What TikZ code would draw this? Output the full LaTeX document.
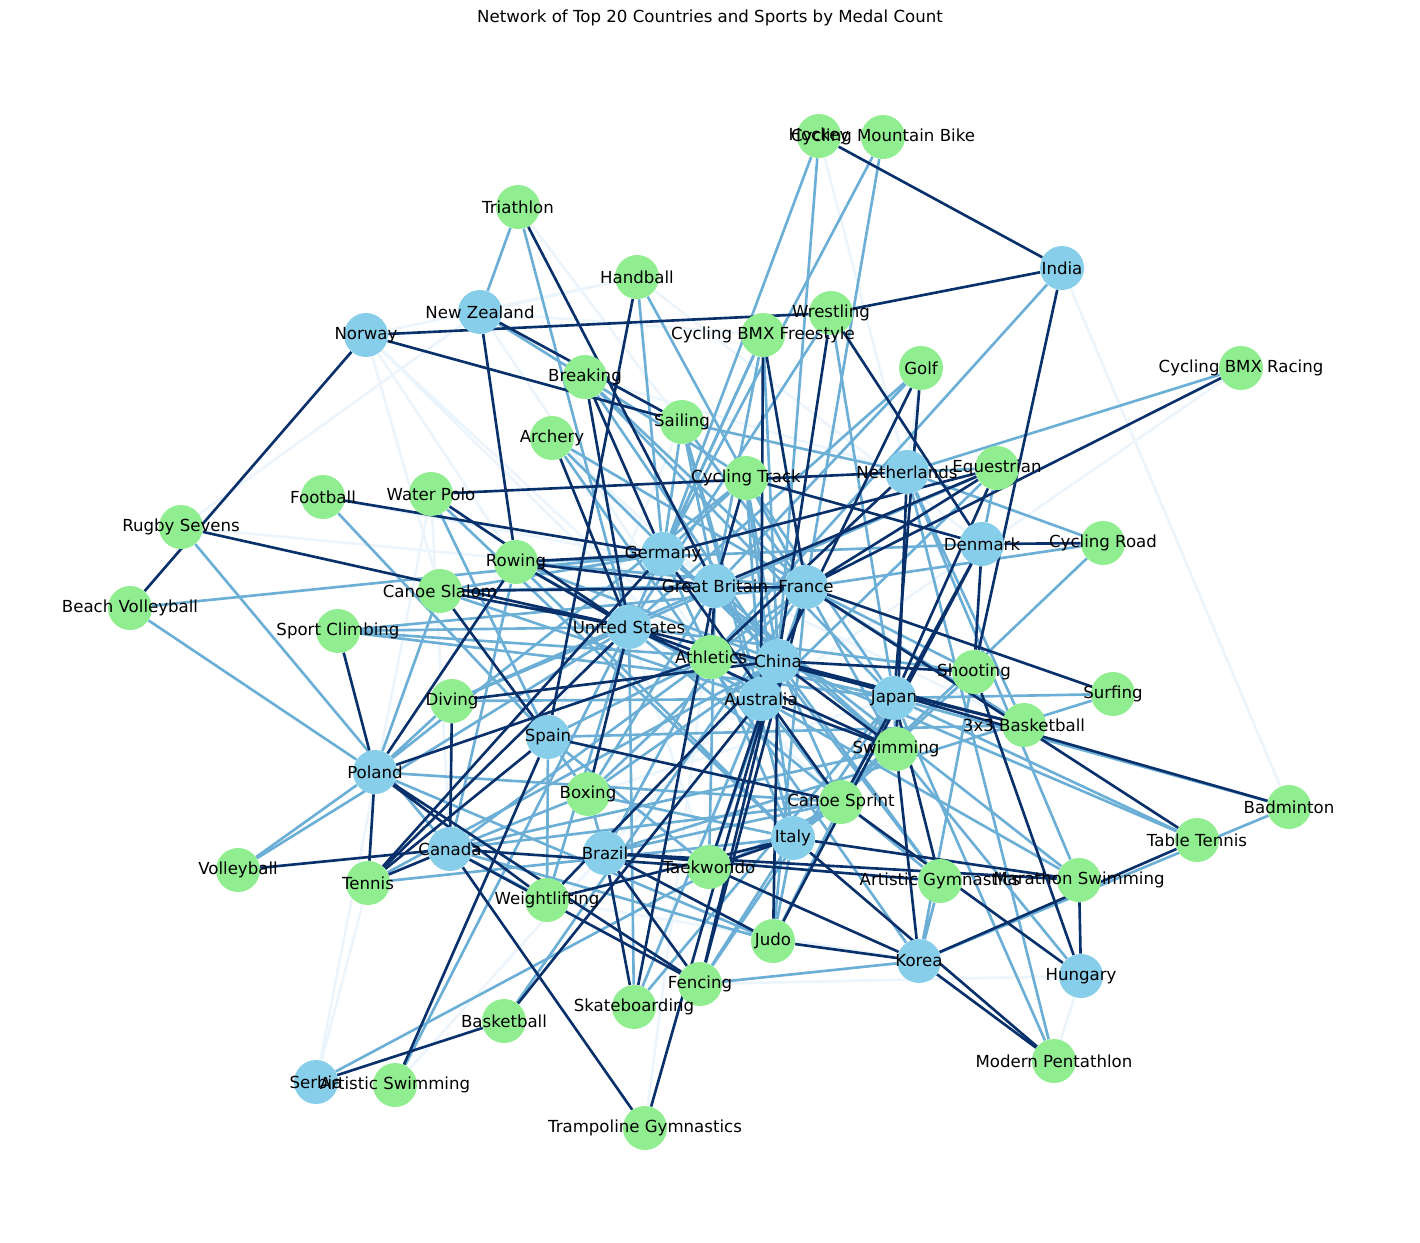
\documentclass[tikz,border=0pt]{standalone}
\usepackage{fontspec}
\setmainfont{DejaVu Sans}
\usepackage{tikz}
\tikzset{
  >=latex,
}
\definecolor{skyblue}{RGB}{135,206,235}
\definecolor{lightgreen}{RGB}{144,238,144}
\definecolor{bluedark}{RGB}{8,48,107}
\definecolor{bluemid}{RGB}{107,174,214}
\definecolor{bluefaint}{RGB}{236,244,252}
\tikzstyle{country}=[circle,fill=skyblue,minimum size=0.88cm,inner sep=0pt]
\tikzstyle{sport}=[circle,fill=lightgreen,minimum size=0.88cm,inner sep=0pt]
\tikzstyle{heavy}=[line width=1.5pt,draw=bluedark]
\tikzstyle{medium}=[line width=1.5pt,draw=bluemid]
\tikzstyle{faint}=[line width=1.5pt,draw=bluefaint]
\tikzstyle{every node}=[font=\fontsize{9.45}{11}\selectfont]
\pgfdeclarelayer{edges}
\pgfsetlayers{edges,main}

\begin{document}
\begin{tikzpicture}[x=0.02cm,y=-0.02cm]
    \useasboundingbox (0,0) rectangle (1420,1242);
    \node (title) at (710,18) {Network of Top 20 Countries and Sports by Medal Count};
    % countries
    \node[country,label=center:India] (ind) at (1062,268) {};
    \node[country,label=center:New Zealand] (nzl) at (480,312) {};
    \node[country,label=center:Norway] (nor) at (366,335) {};
    \node[country,label=center:Netherlands] (ned) at (907,472) {};
    \node[country,label=center:Denmark] (den) at (982,544) {};
    \node[country,label=center:Germany] (ger) at (663,554) {};
    \node[country,label=center:Great Britain] (gbr) at (715,586) {};
    \node[country,label=center:France] (fra) at (806,587) {};
    \node[country,label=center:United States] (usa) at (629,627) {};
    \node[country,label=center:China] (chn) at (778,661) {};
    \node[country,label=center:Australia] (aus) at (761,699) {};
    \node[country,label=center:Japan] (jpn) at (894,698) {};
    \node[country,label=center:Spain] (esp) at (548,737) {};
    \node[country,label=center:Poland] (pol) at (375,772) {};
    \node[country,label=center:Canada] (can) at (450,849) {};
    \node[country,label=center:Brazil] (bra) at (605,853) {};
    \node[country,label=center:Italy] (ita) at (793,838) {};
    \node[country,label=center:Korea] (kor) at (919,961) {};
    \node[country,label=center:Hungary] (hun) at (1081,976) {};
    \node[country,label=center:Serbia] (srb) at (316,1082) {};
    % sports
    \node[sport,label=center:Hockey] (hockey) at (819,136) {};
    \node[sport,label=center:Cycling Mountain Bike] (mtb) at (883,137) {};
    \node[sport,label=center:Triathlon] (triathlon) at (518,207) {};
    \node[sport,label=center:Handball] (handball) at (637,277) {};
    \node[sport,label=center:Wrestling] (wrestling) at (831,313) {};
    \node[sport,label=center:Cycling BMX Freestyle] (bmxfree) at (763,335) {};
    \node[sport,label=center:Golf] (golf) at (921,368) {};
    \node[sport,label=center:Cycling BMX Racing] (bmxrace) at (1241,368) {};
    \node[sport,label=center:Breaking] (breaking) at (585,377) {};
    \node[sport,label=center:Sailing] (sailing) at (682,422) {};
    \node[sport,label=center:Archery] (archery) at (552,438) {};
    \node[sport,label=center:Cycling Track] (ctrack) at (746,478) {};
    \node[sport,label=center:Equestrian] (equest) at (997,468) {};
    \node[sport,label=center:Football] (football) at (323,497) {};
    \node[sport,label=center:Water Polo] (wpolo) at (431,494) {};
    \node[sport,label=center:Rugby Sevens] (rugby) at (181,527) {};
    \node[sport,label=center:Cycling Road] (croad) at (1103,543) {};
    \node[sport,label=center:Rowing] (rowing) at (516,562) {};
    \node[sport,label=center:Canoe Slalom] (cslalom) at (440,591) {};
    \node[sport,label=center:Beach Volleyball] (bvolley) at (130,608) {};
    \node[sport,label=center:Sport Climbing] (climbing) at (338,631) {};
    \node[sport,label=center:Athletics] (athletics) at (711,657) {};
    \node[sport,label=center:Shooting] (shooting) at (974,672) {};
    \node[sport,label=center:Surfing] (surfing) at (1113,694) {};
    \node[sport,label=center:Diving] (diving) at (452,701) {};
    \node[sport,label=center:3x3 Basketball] (bball3) at (1024,725) {};
    \node[sport,label=center:Swimming] (swimming) at (896,749) {};
    \node[sport,label=center:Boxing] (boxing) at (588,794) {};
    \node[sport,label=center:Canoe Sprint] (csprint) at (841,802) {};
    \node[sport,label=center:Badminton] (badminton) at (1289,807) {};
    \node[sport,label=center:Table Tennis] (ttennis) at (1197,840) {};
    \node[sport,label=center:Volleyball] (volley) at (238,870) {};
    \node[sport,label=center:Tennis] (tennis) at (368,883) {};
    \node[sport,label=center:Taekwondo] (taekwondo) at (709,867) {};
    \node[sport,label=center:Weightlifting] (weightlift) at (547,900) {};
    \node[sport,label=center:Artistic Gymnastics] (artgym) at (940,881) {};
    \node[sport,label=center:Marathon Swimming] (marathon) at (1079,880) {};
    \node[sport,label=center:Judo] (judo) at (773,941) {};
    \node[sport,label=center:Fencing] (fencing) at (700,984) {};
    \node[sport,label=center:Skateboarding] (skate) at (634,1007) {};
    \node[sport,label=center:Basketball] (basketball) at (504,1021) {};
    \node[sport,label=center:Modern Pentathlon] (pentathlon) at (1054,1061) {};
    \node[sport,label=center:Artistic Swimming] (artswim) at (395,1085) {};
    \node[sport,label=center:Trampoline Gymnastics] (trampoline) at (645,1128) {};
    % medal links
    \begin{pgfonlayer}{edges}
    \draw[faint] (ind) -- (badminton) (nzl) -- (handball) (nzl) -- (bmxfree) (nzl) -- (rugby) (nzl) -- (athletics);
    \draw[faint] (nor) -- (handball) (nor) -- (rowing) (nor) -- (cslalom) (nor) -- (athletics) (nor) -- (csprint);
    \draw[faint] (ned) -- (hockey) (ned) -- (golf) (ned) -- (breaking) (den) -- (handball) (ger) -- (bball3);
    \draw[faint] (gbr) -- (archery) (gbr) -- (trampoline) (fra) -- (triathlon) (fra) -- (football) (fra) -- (rugby);
    \draw[faint] (usa) -- (taekwondo) (chn) -- (skate) (chn) -- (artswim) (aus) -- (bmxrace) (jpn) -- (boxing);
    \draw[faint] (esp) -- (sailing) (can) -- (wpolo) (kor) -- (weightlift) (hun) -- (fencing) (hun) -- (pentathlon);
    \draw[faint] (srb) -- (wpolo) (srb) -- (tennis);
    \draw[medium] (ind) -- (athletics) (nzl) -- (triathlon) (nzl) -- (ctrack);
    \draw[medium] (ned) -- (bmxrace) (ned) -- (sailing) (ned) -- (equest) (ned) -- (croad) (ned) -- (bball3) (ned) -- (marathon) (ned) -- (pentathlon);
    \draw[medium] (den) -- (equest) (den) -- (rowing);
    \draw[medium] (ger) -- (hockey) (ger) -- (mtb) (ger) -- (handball) (ger) -- (bmxfree) (ger) -- (sailing) (ger) -- (ctrack);
    \draw[medium] (ger) -- (cslalom) (ger) -- (bvolley) (ger) -- (athletics) (ger) -- (swimming) (ger) -- (marathon);
    \draw[medium] (gbr) -- (bmxfree) (gbr) -- (golf) (gbr) -- (sailing) (gbr) -- (cslalom) (gbr) -- (diving);
    \draw[medium] (gbr) -- (swimming) (gbr) -- (boxing) (gbr) -- (taekwondo) (gbr) -- (artgym);
    \draw[medium] (fra) -- (mtb) (fra) -- (handball) (fra) -- (breaking) (fra) -- (sailing) (fra) -- (archery) (fra) -- (ctrack);
    \draw[medium] (fra) -- (croad) (fra) -- (rowing) (fra) -- (climbing) (fra) -- (athletics) (fra) -- (shooting) (fra) -- (bball3);
    \draw[medium] (fra) -- (swimming) (fra) -- (boxing) (fra) -- (taekwondo) (fra) -- (judo) (fra) -- (basketball);
    \draw[medium] (usa) -- (triathlon) (usa) -- (wrestling) (usa) -- (bmxfree) (usa) -- (golf) (usa) -- (equest) (usa) -- (climbing);
    \draw[medium] (usa) -- (shooting) (usa) -- (diving) (usa) -- (volley) (usa) -- (weightlift) (usa) -- (artgym) (usa) -- (skate) (usa) -- (artswim);
    \draw[medium] (chn) -- (hockey) (chn) -- (bmxfree) (chn) -- (breaking) (chn) -- (archery) (chn) -- (ctrack) (chn) -- (rowing) (chn) -- (climbing);
    \draw[medium] (chn) -- (athletics) (chn) -- (boxing) (chn) -- (csprint) (chn) -- (ttennis) (chn) -- (tennis) (chn) -- (artgym);
    \draw[medium] (aus) -- (sailing) (aus) -- (ctrack) (aus) -- (equest) (aus) -- (rowing) (aus) -- (cslalom);
    \draw[medium] (aus) -- (athletics) (aus) -- (diving) (aus) -- (csprint) (aus) -- (marathon) (aus) -- (skate);
    \draw[medium] (jpn) -- (wrestling) (jpn) -- (breaking) (jpn) -- (ctrack) (jpn) -- (climbing) (jpn) -- (athletics) (jpn) -- (surfing) (jpn) -- (swimming);
    \draw[medium] (jpn) -- (badminton) (jpn) -- (ttennis) (jpn) -- (judo) (jpn) -- (fencing) (jpn) -- (skate) (jpn) -- (pentathlon);
    \draw[medium] (esp) -- (football) (esp) -- (wpolo) (esp) -- (athletics) (esp) -- (bball3) (esp) -- (boxing) (esp) -- (taekwondo) (esp) -- (weightlift);
    \draw[medium] (pol) -- (cslalom) (pol) -- (bvolley) (pol) -- (diving) (pol) -- (csprint) (pol) -- (volley) (pol) -- (ctrack) (pol) -- (judo);
    \draw[medium] (can) -- (rugby) (can) -- (rowing) (can) -- (athletics) (can) -- (swimming) (can) -- (boxing) (can) -- (csprint) (can) -- (weightlift) (can) -- (judo);
    \draw[medium] (bra) -- (athletics) (bra) -- (surfing) (bra) -- (boxing) (bra) -- (csprint);
    \draw[medium] (ita) -- (sailing) (ita) -- (ctrack) (ita) -- (wpolo) (ita) -- (croad) (ita) -- (rowing) (ita) -- (athletics) (ita) -- (shooting);
    \draw[medium] (ita) -- (swimming) (ita) -- (boxing) (ita) -- (csprint) (ita) -- (tennis) (ita) -- (judo) (ita) -- (fencing);
    \draw[medium] (kor) -- (archery) (kor) -- (shooting) (kor) -- (badminton) (kor) -- (artgym) (kor) -- (fencing);
    \draw[medium] (hun) -- (swimming) (srb) -- (csprint);
    \draw[heavy] (ind) -- (hockey) (ind) -- (wrestling) (ind) -- (shooting) (nzl) -- (sailing) (nzl) -- (rowing);
    \draw[heavy] (nor) -- (wrestling) (nor) -- (sailing) (nor) -- (bvolley) (ned) -- (wpolo) (ned) -- (athletics) (ned) -- (swimming);
    \draw[heavy] (den) -- (wrestling) (den) -- (ctrack) (den) -- (croad) (den) -- (shooting) (den) -- (csprint) (den) -- (judo);
    \draw[heavy] (ger) -- (breaking) (ger) -- (equest) (ger) -- (football) (ger) -- (rowing) (ger) -- (csprint) (ger) -- (tennis);
    \draw[heavy] (gbr) -- (triathlon) (gbr) -- (ctrack) (gbr) -- (equest) (gbr) -- (rowing) (gbr) -- (athletics) (gbr) -- (skate);
    \draw[heavy] (fra) -- (bmxfree) (fra) -- (bmxrace) (fra) -- (equest) (fra) -- (cslalom) (fra) -- (surfing) (fra) -- (ttennis) (fra) -- (fencing);
    \draw[heavy] (usa) -- (breaking) (usa) -- (archery) (usa) -- (wpolo) (usa) -- (rugby) (usa) -- (rowing) (usa) -- (cslalom);
    \draw[heavy] (usa) -- (athletics) (usa) -- (bball3) (usa) -- (swimming) (usa) -- (boxing) (usa) -- (tennis);
    \draw[heavy] (chn) -- (wrestling) (chn) -- (golf) (chn) -- (shooting) (chn) -- (diving) (chn) -- (bball3) (chn) -- (swimming);
    \draw[heavy] (chn) -- (badminton) (chn) -- (taekwondo) (chn) -- (weightlift) (chn) -- (judo) (chn) -- (fencing) (chn) -- (trampoline);
    \draw[heavy] (aus) -- (bmxfree) (aus) -- (swimming) (aus) -- (basketball) (jpn) -- (golf) (jpn) -- (equest) (jpn) -- (artgym);
    \draw[heavy] (esp) -- (handball) (esp) -- (cslalom) (esp) -- (csprint) (esp) -- (tennis) (esp) -- (artswim);
    \draw[heavy] (pol) -- (rowing) (pol) -- (climbing) (pol) -- (athletics) (pol) -- (tennis) (pol) -- (weightlift) (pol) -- (fencing);
    \draw[heavy] (can) -- (diving) (can) -- (volley) (can) -- (tennis) (can) -- (taekwondo) (can) -- (fencing) (can) -- (trampoline);
    \draw[heavy] (bra) -- (artgym) (bra) -- (marathon) (bra) -- (judo) (bra) -- (fencing) (bra) -- (skate);
    \draw[heavy] (ita) -- (taekwondo) (ita) -- (weightlift) (ita) -- (marathon) (ita) -- (pentathlon);
    \draw[heavy] (kor) -- (swimming) (kor) -- (ttennis) (kor) -- (taekwondo) (kor) -- (judo) (kor) -- (pentathlon);
    \draw[heavy] (hun) -- (shooting) (hun) -- (csprint) (hun) -- (marathon) (srb) -- (basketball);
    \end{pgfonlayer}
\end{tikzpicture}
\end{document}
